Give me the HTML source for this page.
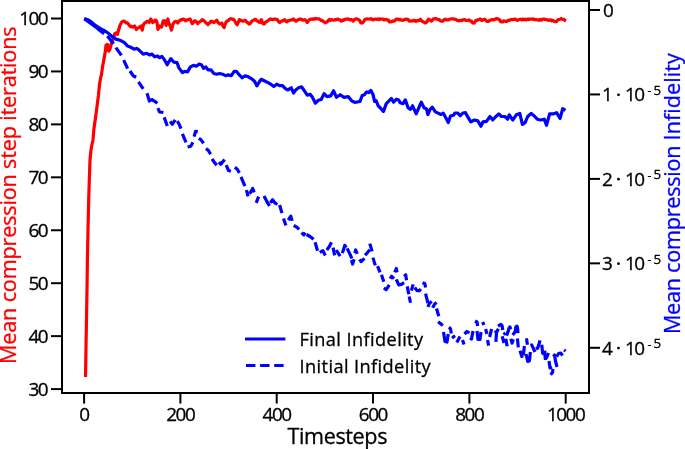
<!DOCTYPE html>
<html><head><meta charset="utf-8"><style>
html,body{margin:0;padding:0;background:#fff;}
body{width:685px;height:449px;overflow:hidden;}
svg{display:block;}
text{font-family:'Open Sans','Noto Sans','Liberation Sans',sans-serif;fill:currentColor;stroke:currentColor;stroke-width:0.3px;color:#000;}
.t{font-size:18.9px;letter-spacing:-1.45px;}
.s{font-size:13.3px;}
.lab{font-size:21.6px;letter-spacing:-0.16px;}
.xl{letter-spacing:-0.4px;}
</style></head><body>
<svg width="685" height="449" viewBox="0 0 685 449">
<rect width="685" height="449" fill="#fff"/>
<g stroke="#000" stroke-width="2" fill="none"><line x1="51" y1="18.5" x2="62" y2="18.5"/><line x1="51" y1="71.44" x2="62" y2="71.44"/><line x1="51" y1="124.38" x2="62" y2="124.38"/><line x1="51" y1="177.32" x2="62" y2="177.32"/><line x1="51" y1="230.26" x2="62" y2="230.26"/><line x1="51" y1="283.2" x2="62" y2="283.2"/><line x1="51" y1="336.14" x2="62" y2="336.14"/><line x1="51" y1="389.1" x2="62" y2="389.1"/><line x1="84.1" y1="393" x2="84.1" y2="403.6"/><line x1="180.4" y1="393" x2="180.4" y2="403.6"/><line x1="276.7" y1="393" x2="276.7" y2="403.6"/><line x1="373.0" y1="393" x2="373.0" y2="403.6"/><line x1="469.4" y1="393" x2="469.4" y2="403.6"/><line x1="565.7" y1="393" x2="565.7" y2="403.6"/><line x1="589" y1="10" x2="600" y2="10"/><line x1="589" y1="94.45" x2="600" y2="94.45"/><line x1="589" y1="178.9" x2="600" y2="178.9"/><line x1="589" y1="263.35" x2="600" y2="263.35"/><line x1="589" y1="347.8" x2="600" y2="347.8"/></g>
<polyline fill="none" stroke="#f00" stroke-width="3.2" stroke-linejoin="round" stroke-linecap="butt" points="85.5,377.0 86.3,330.0 87.0,290.0 87.4,260.0 88.0,230.0 88.7,200.0 89.3,180.0 90.0,160.0 91.0,150.0 91.9,145.0 93.0,140.0 93.9,129.0 96.1,113.5 98.4,95.7 99.5,84.5 100.6,77.9 101.4,75.0 102.7,65.8 104.0,59.1 105.4,51.1 106.0,45.1 107.4,44.4 108.7,51.1 110.0,49.1 111.4,43.1 113.4,39.1 114.7,33.7 116.1,33.0 117.4,34.4 118.7,29.7 120.1,25.0 122.1,21.7 124.1,21.0 125.1,21.7 126.1,23.0 127.1,22.8 128.2,23.7 129.3,25.4 130.5,26.6 131.7,26.3 132.8,27.2 133.7,26.7 134.6,26.0 135.5,27.5 136.4,29.5 137.6,28.0 138.7,27.8 139.8,26.9 141.0,26.0 142.2,30.1 143.4,24.9 144.6,23.0 145.7,22.5 146.9,21.4 148.1,21.3 149.2,22.5 150.1,20.1 150.9,19.0 151.8,20.6 152.7,22.5 153.8,21.8 155.0,20.2 155.9,20.2 156.8,21.4 158.0,29.5 158.8,27.3 159.7,26.0 160.6,26.8 161.5,27.2 162.3,24.7 163.2,20.8 164.1,20.9 165.0,20.8 166.1,25.4 167.0,22.0 167.9,19.0 168.8,22.7 169.6,24.9 170.5,26.8 171.4,30.1 172.2,27.4 173.1,23.7 174.3,22.2 175.5,21.4 176.7,21.7 177.8,23.1 178.9,21.1 180.1,20.2 181.1,19.5 182.1,19.9 183.1,19.0 184.2,19.4 185.4,20.8 186.6,20.3 187.7,19.6 188.9,19.5 190.1,19.0 191.2,21.2 192.4,23.7 193.6,22.3 194.7,20.8 195.7,21.1 196.7,22.1 197.7,23.7 198.8,22.3 200.0,21.8 201.1,21.0 202.2,19.6 203.2,20.2 204.1,20.8 205.1,21.8 206.1,22.9 207.0,23.7 208.0,24.7 209.0,23.2 210.0,22.7 211.0,21.1 212.0,21.9 212.9,21.6 213.9,22.5 214.9,21.9 215.8,21.1 216.8,20.3 217.8,22.1 218.7,23.1 219.7,24.0 220.8,23.3 221.9,23.2 223.0,26.1 224.1,27.6 225.2,24.1 226.3,21.8 227.3,20.9 228.2,20.7 229.2,19.6 230.3,18.7 231.4,18.9 232.4,19.4 233.3,19.1 234.3,20.3 235.3,22.0 236.2,23.6 237.2,24.7 238.3,22.3 239.4,19.6 240.4,20.7 241.3,20.3 242.3,21.1 243.3,21.1 244.3,20.7 245.3,20.3 246.5,21.7 247.7,22.7 248.9,24.0 249.9,23.5 250.8,22.7 251.8,21.1 252.8,20.6 253.7,20.3 254.7,19.6 255.7,19.4 256.7,20.9 257.7,21.1 258.8,22.0 259.9,22.5 261.3,19.6 262.4,22.5 263.5,24.0 264.5,23.7 265.4,22.2 266.4,21.8 267.4,20.9 268.3,20.6 269.3,19.6 270.5,18.9 271.8,19.5 273.0,19.6 274.2,19.1 275.4,19.0 276.6,19.6 277.6,19.9 278.6,21.9 279.6,22.5 280.6,21.5 281.5,21.2 282.5,21.1 283.6,20.2 284.7,19.6 285.8,21.3 286.9,21.8 287.9,20.7 288.8,20.7 289.8,20.3 291.0,19.9 292.2,19.9 293.4,18.9 294.4,20.1 295.4,20.9 296.4,21.1 297.6,20.1 298.8,19.6 300.0,19.1 301.1,19.0 302.2,19.9 303.3,20.2 304.4,19.6 305.4,20.0 306.3,21.0 307.3,22.5 308.3,21.0 309.2,19.9 310.2,19.2 311.3,19.2 312.4,19.3 313.5,18.8 314.6,19.2 315.7,18.4 316.8,18.9 317.9,18.8 319.0,18.9 320.0,19.5 320.9,20.5 321.9,20.3 323.1,21.4 324.3,22.0 325.5,22.8 326.5,22.1 327.5,21.4 328.5,20.3 329.5,19.4 330.4,20.4 331.4,19.6 332.6,20.0 333.8,20.2 335.0,19.6 336.0,19.9 337.0,19.2 338.0,19.2 339.0,19.7 339.9,19.9 340.9,21.1 341.9,21.0 342.8,19.9 343.8,20.3 345.0,19.3 346.2,19.1 347.4,19.2 348.4,18.9 349.4,19.4 350.4,19.9 351.4,19.6 352.3,20.0 353.3,21.1 354.3,19.8 355.2,19.0 356.2,18.9 357.3,19.0 358.4,19.6 359.5,20.3 360.6,22.5 361.7,23.1 362.8,22.5 363.8,21.6 364.7,19.8 365.7,19.2 366.8,18.8 367.9,19.0 369.0,19.0 370.1,19.2 371.2,18.6 372.3,19.7 373.4,19.9 374.5,19.2 375.6,19.2 376.6,19.4 377.7,18.9 378.8,19.6 379.8,18.9 380.8,19.1 381.8,19.2 383.0,19.0 384.2,20.0 385.4,19.6 386.5,19.4 387.6,20.3 388.6,20.1 389.5,22.0 390.5,21.8 391.7,21.6 393.0,20.8 394.2,21.1 395.2,20.5 396.1,19.1 397.1,19.2 398.1,19.2 399.0,19.9 400.0,19.2 401.0,20.1 401.9,20.2 402.9,20.3 404.1,19.6 405.4,19.4 406.6,19.2 407.8,19.3 409.0,20.9 410.2,21.1 411.4,20.9 412.7,21.0 413.9,20.3 415.0,20.6 416.1,21.4 417.2,20.4 418.2,20.8 419.3,20.5 420.4,19.2 421.4,20.6 422.4,21.4 423.4,21.8 424.7,22.8 426.0,22.8 427.2,21.4 428.5,19.2 429.5,19.4 430.4,20.5 431.4,21.1 432.4,20.2 433.3,18.9 434.3,18.9 435.5,18.4 436.8,19.0 438.0,19.6 439.2,19.7 440.4,20.9 441.6,21.1 442.8,21.2 444.1,19.8 445.3,19.2 446.4,19.9 447.5,19.9 448.5,19.9 449.6,19.2 450.7,19.0 451.8,18.8 452.9,18.8 454.0,19.2 455.0,19.1 455.9,19.5 456.9,20.3 458.1,20.5 459.4,20.9 460.6,20.3 461.8,20.6 463.0,19.8 464.2,19.6 465.4,20.1 466.7,20.5 467.9,20.3 469.1,19.9 470.3,21.1 471.5,21.1 472.6,22.8 473.7,23.2 474.8,22.2 475.9,20.3 477.1,20.3 478.4,19.5 479.6,19.2 480.6,19.1 481.5,20.4 482.5,20.3 483.6,19.5 484.7,19.2 485.9,20.4 487.1,21.4 488.3,21.4 489.5,20.6 490.8,20.1 492.0,19.6 493.2,20.0 494.5,19.5 495.7,18.9 496.7,18.6 497.8,18.8 498.8,19.6 499.8,19.8 500.7,21.7 501.7,21.8 502.7,22.0 503.6,20.8 504.6,21.1 505.8,21.3 507.0,21.3 508.2,20.3 509.4,20.3 510.7,19.6 511.9,19.6 513.0,19.7 514.1,19.2 515.2,19.1 516.3,19.9 517.4,20.4 518.5,19.8 519.6,19.4 520.7,19.2 521.8,19.9 522.9,19.1 523.9,19.8 525.0,19.2 526.2,19.8 527.5,19.0 528.7,19.6 529.9,19.1 531.1,19.0 532.3,19.2 533.3,18.9 534.3,19.6 535.3,19.6 536.5,19.5 537.7,19.9 538.9,20.3 540.1,19.4 541.4,20.2 542.6,19.2 543.8,19.1 545.0,19.4 546.2,19.6 547.4,19.8 548.7,20.4 549.9,19.9 550.9,19.9 551.8,20.8 552.8,20.3 553.6,20.9 554.5,21.5 555.5,21.6 556.4,21.6 558.0,19.8 559.0,19.5 560.1,19.2 561.1,18.5 562.0,19.2 563.0,19.3 564.0,19.4 565.0,20.5 566.0,21.0"/>
<g fill="none" stroke="#00f" stroke-width="3.2" stroke-linejoin="round" stroke-linecap="butt"><polyline points="84.3,18.8 88.0,21.5 92.5,24.6 97.0,28.0 100.5,31.0 104.2,33.8"/><polyline points="107.4,35.9 113.6,43.7"/><polyline points="115.9,47.6 121.4,55.4"/><polyline points="123.7,60.1 127.6,68.7"/><polyline points="130.0,71.0 133.1,75.7 136.2,77.2"/><polyline points="138.5,81.9 143.2,88.9"/><polyline points="147.0,93.3 149.4,101.0 151.7,99.5 155.6,101.8 157.2,103.4"/><polyline points="157.9,108.1 159.5,112.0 163.4,112.5"/><polyline points="164.2,117.4 167.3,126.0"/><polyline points="170.2,121.3 172.3,124.3 175.2,119.8"/><polyline points="177.3,121.2 179.0,124.0 181.0,128.6"/><polyline points="182.4,133.8 186.0,142.4"/><polyline points="187.6,147.0 190.7,146.3 193.0,142.4"/><polyline points="194.1,136.6 195.6,131.3 197.8,131.8"/><polyline points="198.9,138.2 201.2,140.1 203.6,143.3"/><polyline points="205.9,148.7 208.3,150.3 210.6,154.2"/><polyline points="212.1,158.8 214.5,162.7 216.8,165.1"/><polyline points="219.0,162.0 220.8,164.2 224.6,159.6"/><polyline points="226.2,165.1 228.5,170.5 230.9,171.3"/><polyline points="234.8,167.4 237.1,169.0 239.4,172.9"/><polyline points="241.0,176.8 244.9,186.1"/><polyline points="246.5,190.0 248.0,196.3"/><polyline points="249.6,193.9 252.7,188.5 254.2,192.4"/><polyline points="256.2,202.9 258.6,196.7"/><polyline points="264.0,195.9 266.4,200.6 269.5,206.0"/><polyline points="270.3,202.9 272.6,199.8 275.0,202.9 277.3,204.5"/><polyline points="279.6,205.0 282.0,213.1"/><polyline points="283.5,218.5 285.9,225.5"/><polyline points="288.2,220.1 290.8,216.2 292.1,220.9"/><polyline points="293.7,225.5 296.8,227.1 299.1,229.4"/><polyline points="301.5,232.6 303.8,234.9 305.3,232.6"/><polyline points="306.5,234.5 310.0,236.5 313.6,239.3"/><polyline points="315.1,242.2 317.5,250.7"/><polyline points="319.8,252.3 322.9,250.7 325.3,255.4"/><polyline points="326.8,250.0 329.2,246.8 331.5,242.2"/><polyline points="333.1,247.6 334.6,255.4"/><polyline points="336.2,250.0 340.1,256.2"/><polyline points="342.4,253.1 344.8,245.3 346.3,247.6"/><polyline points="347.1,248.4 350.2,254.6 351.8,258.5"/><polyline points="351.5,260.0 352.6,264.0 354.1,259.3"/><polyline points="354.9,253.1 355.7,250.0 357.2,253.9"/><polyline points="359.6,259.3 361.1,261.6 364.4,258.4"/><polyline points="365.1,255.3 369.8,249.8"/><polyline points="369.8,243.6 372.1,251.4"/><polyline points="372.9,257.6 375.3,265.4"/><polyline points="377.6,266.2 380.0,272.4"/><polyline points="381.5,274.8 383.8,281.8"/><polyline points="383.8,288.0 386.2,289.6 389.3,284.9"/><polyline points="390.1,278.7 391.6,276.3 394.0,278.7"/><polyline points="394.8,272.4 396.3,268.5 397.1,272.4"/><polyline points="396.3,279.4 398.7,284.9 401.8,284.1 404.1,282.6"/><polyline points="404.1,276.3 405.7,274.8 406.5,280.2"/><polyline points="407.2,286.4 408.8,294.2"/><polyline points="409.2,296.5 410.5,302.8"/><polyline points="411.4,290.6 413.1,284.4"/><polyline points="414.7,287.5 417.0,290.6 419.4,290.6 420.9,289.0"/><polyline points="422.5,282.8 424.8,283.6 425.6,287.5"/><polyline points="425.6,293.7 427.9,303.1"/><polyline points="427.9,307.0 429.5,303.1 431.8,301.5"/><polyline points="432.6,307.7 434.9,303.8 436.5,302.3"/><polyline points="436.5,308.5 438.8,316.3"/><polyline points="438.1,321.8 441.2,324.1 442.7,325.7"/><polyline points="443.5,332.0 445.0,341.5 447.0,342.0 448.2,334.0"/><polyline points="449.0,327.2 450.5,328.8 451.3,333.5"/><polyline points="452.1,338.1 453.7,336.6 455.2,335.8"/><polyline points="456.8,342.5 460.0,336.5"/><polyline points="462.5,340.0 464.0,344.6"/><polyline points="464.5,334.0 467.0,331.5 469.5,333.0"/><polyline points="470.0,338.0 471.5,339.0 473.0,331.0"/><polyline points="475.0,321.0 477.0,322.0 477.6,326.0"/><polyline points="477.0,331.0 478.0,339.5 480.0,339.5 481.0,332.0"/><polyline points="482.6,322.0 484.0,325.0"/><polyline points="485.6,329.0 487.0,334.0"/><polyline points="487.6,340.0 488.6,345.6"/><polyline points="489.6,337.0 491.6,329.0"/><polyline points="494.6,332.5 496.2,331.8"/><polyline points="495.9,341.8 496.5,332.5 498.4,328.7"/><polyline points="498.0,326.2 500.9,324.4 502.1,325.6 502.7,330.0"/><polyline points="502.1,336.2 503.0,339.0 504.0,343.0"/><polyline points="503.5,334.5 505.5,333.0"/><polyline points="505.8,338.7 507.1,346.2"/><polyline points="506.5,335.6 508.0,331.8 509.0,328.1 509.9,326.9 510.8,329.4"/><polyline points="510.8,338.7 512.1,343.0 513.3,339.3"/><polyline points="512.7,335.0 514.6,332.5 515.5,330.6 515.8,326.9 517.1,326.2 517.7,329.4 518.0,333.1"/><polyline points="517.4,338.5 518.3,347.4"/><polyline points="520.0,350.7 522.3,357.7"/><polyline points="523.3,355.4 524.4,346.0"/><polyline points="525.4,340.0 526.7,339.7 527.4,344.7"/><polyline points="526.0,354.0 527.7,361.4 529.4,360.7 530.4,352.0"/><polyline points="530.4,345.4 531.7,345.0 533.4,348.4 535.0,352.0"/><polyline points="536.0,349.0 537.7,348.0 539.0,344.0 540.0,340.3"/><polyline points="541.7,344.7 542.7,353.4 544.0,354.0"/><polyline points="544.7,350.7 545.4,360.0"/><polyline points="545.0,354.5 546.5,358.0 548.5,353.0"/><polyline points="549.0,361.0 550.0,368.0 552.0,367.0"/><polyline points="550.5,374.6 552.5,372.6 553.0,369.0"/><polyline points="553.5,356.6 554.5,355.0 555.5,361.0 557.0,367.0"/><polyline points="556.5,356.6 558.6,353.6 560.6,353.0 562.6,355.6"/><polyline points="564.0,350.0 565.6,351.0"/></g>
<polyline fill="none" stroke="#00f" stroke-width="3.2" stroke-linejoin="round" stroke-linecap="butt" points="84.2,18.6 87.1,19.5 90.7,21.4 95.0,25.2 100.0,28.4 104.0,30.4 108.0,33.0 112.0,36.4 116.1,39.1 120.0,40.3 123.6,42.1 125.3,43.5 127.6,46.1 130.2,47.0 134.2,49.2 136.9,48.4 139.1,50.1 143.2,54.1 146.7,53.3 149.8,55.0 152.0,54.1 154.7,56.8 157.4,55.9 159.6,57.7 161.9,56.4 164.5,59.9 167.2,64.8 170.8,58.6 173.9,62.2 177.0,62.6 178.8,67.6 182.4,72.7 184.6,71.3 187.5,72.0 190.4,66.9 193.4,65.4 196.3,66.2 199.2,64.0 201.4,64.7 203.6,68.4 205.8,66.9 208.0,69.8 210.9,69.8 213.8,73.5 216.7,74.2 219.6,73.5 222.6,74.2 225.5,75.7 228.4,74.9 231.3,75.7 234.2,71.3 236.4,71.3 239.3,74.9 242.3,77.8 245.2,75.7 248.8,77.1 252.5,79.3 254.7,81.5 256.9,85.9 259.1,82.2 261.2,79.3 264.2,80.8 267.9,82.7 270.8,84.2 273.8,86.4 276.7,84.2 279.6,85.7 282.5,85.7 285.4,88.6 287.6,90.0 291.3,87.8 293.5,93.0 295.7,90.0 298.6,87.8 301.5,86.8 304.4,90.8 307.3,95.1 310.3,94.4 312.4,97.3 315.4,103.2 318.3,100.3 321.2,99.5 324.1,93.7 327.0,96.6 330.7,95.9 333.6,90.8 336.5,97.3 340.2,94.7 343.8,97.3 348.2,96.6 351.9,101.0 354.8,102.4 358.4,101.7 360.0,101.4 362.2,95.5 364.4,94.8 366.6,91.9 368.8,92.6 370.9,90.4 373.1,94.8 374.6,101.4 376.1,100.7 378.2,105.8 380.4,108.0 383.4,111.6 386.3,103.6 389.2,100.7 391.4,98.5 393.6,102.1 396.5,99.2 398.7,99.9 400.1,102.8 403.1,103.6 405.3,99.9 408.2,108.0 410.4,109.4 412.6,105.8 416.2,113.8 419.1,107.2 421.3,102.1 424.2,108.0 426.4,108.7 427.9,114.5 430.1,109.4 432.3,107.2 435.2,111.6 438.1,113.1 441.0,114.5 443.2,113.1 446.1,118.2 448.3,122.6 450.5,116.0 453.4,115.3 455.0,113.0 457.6,113.0 460.3,115.7 462.9,113.0 465.5,112.7 468.1,117.4 470.8,121.8 474.3,120.0 477.8,120.9 480.9,126.2 483.0,121.8 486.5,121.4 490.0,116.5 492.7,120.0 496.2,116.2 498.8,113.9 501.4,116.5 504.9,116.5 507.6,119.2 509.3,114.8 512.8,120.0 516.3,114.8 519.8,113.4 522.4,124.4 525.1,122.7 527.7,116.5 531.2,113.4 534.7,116.5 537.3,119.2 540.8,120.0 544.3,119.2 546.5,125.3 549.6,113.9 553.1,113.9 556.6,112.7 560.1,118.3 562.7,108.7 565.4,110.4"/>
<rect x="62" y="1" width="527" height="392" fill="none" stroke="#000" stroke-width="2"/>
<text class="t" x="47.2" y="25.4" text-anchor="end">100</text>
<text class="t" x="47.2" y="78.3" text-anchor="end">90</text>
<text class="t" x="47.2" y="131.3" text-anchor="end">80</text>
<text class="t" x="47.2" y="184.2" text-anchor="end">70</text>
<text class="t" x="47.2" y="237.2" text-anchor="end">60</text>
<text class="t" x="47.2" y="290.1" text-anchor="end">50</text>
<text class="t" x="47.2" y="343.0" text-anchor="end">40</text>
<text class="t" x="47.2" y="396.0" text-anchor="end">30</text>
<text class="t" x="84.0" y="420.9" text-anchor="middle">0</text>
<text class="t" x="180.3" y="420.9" text-anchor="middle">200</text>
<text class="t" x="276.6" y="420.9" text-anchor="middle">400</text>
<text class="t" x="372.9" y="420.9" text-anchor="middle">600</text>
<text class="t" x="469.3" y="420.9" text-anchor="middle">800</text>
<text class="t" x="565.6" y="420.9" text-anchor="middle">1000</text>
<text class="t" x="603" y="16.8">0</text>
<text class="t" x="602" y="101.2">1</text><circle cx="618.5" cy="94.8" r="1.4" fill="#000"/><text class="t" x="625" y="101.2">10</text><text class="s" x="647.6" y="95.2" style="font-size:12px">-</text><text class="s" x="653.6" y="94.5">5</text>
<text class="t" x="602" y="185.7">2</text><circle cx="618.5" cy="179.2" r="1.4" fill="#000"/><text class="t" x="625" y="185.7">10</text><text class="s" x="647.6" y="179.6" style="font-size:12px">-</text><text class="s" x="653.6" y="179.0">5</text>
<text class="t" x="602" y="270.2">3</text><circle cx="618.5" cy="263.7" r="1.4" fill="#000"/><text class="t" x="625" y="270.2">10</text><text class="s" x="647.6" y="264.1" style="font-size:12px">-</text><text class="s" x="653.6" y="263.5">5</text>
<text class="t" x="602" y="354.6">4</text><circle cx="618.5" cy="348.1" r="1.4" fill="#000"/><text class="t" x="625" y="354.6">10</text><text class="s" x="647.6" y="348.5" style="font-size:12px">-</text><text class="s" x="653.6" y="347.9">5</text>
<text class="lab xl" x="337.3" y="443.9" text-anchor="middle">Timesteps</text>
<text class="lab" style="color:#f00" transform="translate(16.2,195.3) rotate(-90)" text-anchor="middle">Mean compression step iterations</text>
<text class="lab" style="color:#00f" transform="translate(680,193.6) rotate(-90)" text-anchor="middle"><tspan style="letter-spacing:-0.24px">Mean compression </tspan><tspan style="letter-spacing:0.06px">Infidelity</tspan></text>
<line x1="245" y1="339.1" x2="285.4" y2="339.1" stroke="#00f" stroke-width="3"/>
<line x1="246" y1="365.5" x2="284" y2="365.5" stroke="#00f" stroke-width="3" stroke-dasharray="9.4 4.7"/>
<text x="299.5" y="346.3" style="font-size:18.2px;letter-spacing:0.4px">Final Infidelity</text>
<text x="299.5" y="372.6" style="font-size:18.2px;letter-spacing:0.4px">Initial Infidelity</text>
</svg>
</body></html>
